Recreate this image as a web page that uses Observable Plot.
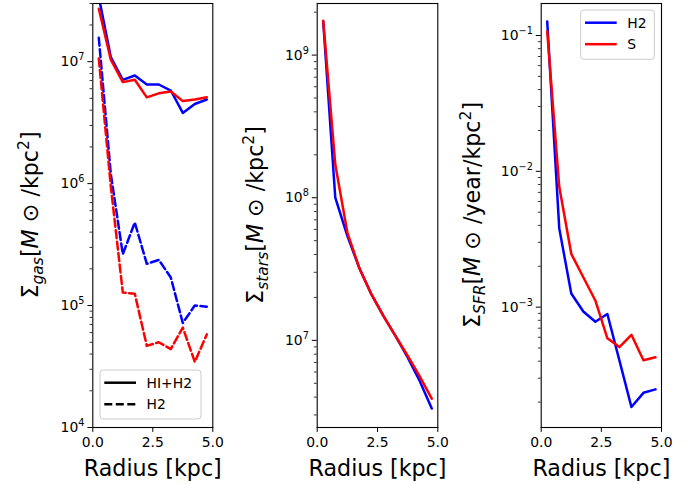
<!DOCTYPE html>
<html><head><meta charset="utf-8">
<script src="https://cdn.jsdelivr.net/npm/d3@7"></script>
<script src="https://cdn.jsdelivr.net/npm/@observablehq/plot@0.6"></script>
<style>
body{margin:0;background:#fff;}
#fig{position:relative;width:698px;height:484px;font-family:"DejaVu Sans";}
#fig svg{position:absolute;left:0;top:0;}
</style></head><body><div id="fig"></div>
<script>
// ---- data ----
const radius = [0.25, 0.75, 1.25, 1.75, 2.25, 2.75, 3.25, 3.75, 4.25, 4.75];
const gasTotalH2 = [3.4e7, 1.09e7, 7.1e6, 7.7e6, 6.5e6, 6.5e6, 5.8e6, 3.8e6, 4.5e6, 4.9e6];
const gasTotalS  = [2.72e7, 1.04e7, 6.8e6, 7.1e6, 5.1e6, 5.5e6, 5.7e6, 4.75e6, 4.9e6, 5.1e6];
const gasMolH2   = [1.57e7, 1.2e6, 2.64e5, 4.8e5, 2.2e5, 2.37e5, 1.7e5, 7.2e4, 1.0e5, 9.8e4];
const gasMolS    = [1.06e7, 9.5e5, 1.28e5, 1.25e5, 4.67e4, 5.0e4, 4.4e4, 6.6e4, 3.45e4, 5.8e4];
const starsH2    = [1.72e9, 1.0e8, 5.4e7, 3.2e7, 2.1e7, 1.48e7, 1.07e7, 7.6e6, 5.2e6, 3.33e6];
const starsS     = [1.74e9, 1.71e8, 5.7e7, 3.2e7, 2.1e7, 1.48e7, 1.07e7, 7.8e6, 5.6e6, 3.9e6];
const sfrH2      = [0.127, 3.8e-3, 1.26e-3, 9.3e-4, 7.8e-4, 8.9e-4, 4.06e-4, 1.84e-4, 2.34e-4, 2.48e-4];
const sfrS       = [0.107, 7.7e-3, 2.47e-3, 1.66e-3, 1.12e-3, 5.9e-4, 5.08e-4, 6.26e-4, 4.06e-4, 4.28e-4];
const xTicks = [0, 2.5, 5];
const gasTicks = [1e4, 1e5, 1e6, 1e7];
const starsTicks = [1e7, 1e8, 1e9];
const sfrTicks = [1e-3, 1e-2, 1e-1];
const modelNames = ["H2", "S"];
const gasLegend = ["HI+H2", "H2"];
const xLabel = "Radius [kpc]";

function minorTicks(lo, hi) {
  const out = [];
  for (let e = Math.floor(Math.log10(lo)); e <= Math.ceil(Math.log10(hi)); e++)
    for (let m = 2; m <= 9; m++) { const v = m * Math.pow(10, e); if (v >= lo && v <= hi) out.push(v); }
  return out;
}
const rows = (ys) => radius.map((r, i) => ({r, v: ys[i]}));

const W = 698, H = 484, TOP = 3, BOTTOM = 427;
const FS = 13.9, LFS = 22.2, LW = 2.5, DASH = "8,3.5";

function panel({left, right, ydomain, yticks, series}) {
  const marks = [
    Plot.axisX({ticks: xTicks, tickFormat: d3.format(".1f"), tickSize: 4.9, tickPadding: 5, label: null, fontSize: FS}),
    Plot.axisY({ticks: yticks, tickSize: 4.9, tickPadding: 3.5, label: null, fontSize: FS,
      tickFormat: d => "10^" + Math.round(Math.log10(d))}),
    Plot.axisY({ticks: minorTicks(ydomain[0], ydomain[1]), tickSize: 2.8, strokeWidth: 0.8, label: null, tickFormat: () => ""}),
    ...series.map(s => Plot.line(rows(s.data), {x: "r", y: "v", stroke: s.color, strokeWidth: LW,
      strokeDasharray: s.dash ? DASH : null, clip: true})),
    Plot.frame({stroke: "black", strokeWidth: 1.1}),
    Plot.text([xLabel], {frameAnchor: "bottom", lineAnchor: "bottom", dy: 48, fontSize: LFS, fill: "black"})
  ];
  const svg = Plot.plot({
    width: W, height: H,
    marginLeft: left, marginRight: W - right, marginTop: TOP, marginBottom: H - BOTTOM,
    style: {background: "transparent", fontFamily: "DejaVu Sans", fontSize: FS + "px", color: "black", overflow: "visible"},
    x: {domain: [0, 5]},
    y: {type: "log", domain: ydomain},
    marks
  });
  // superscript exponents
  d3.select(svg).selectAll("text").each(function() {
    const m = (this.textContent || "").match(/^10\^(-?\d+)$/);
    if (m) {
      this.textContent = "10";
      d3.select(this).append("tspan").attr("dy", "-6px").attr("font-size", "9.7px").text(m[1].replace("-", "\u2212"));
    }
  });
  return svg;
}

function yLabel(svg, x, y, parts) {
  const t = d3.select(svg).append("text")
    .attr("transform", `translate(${x},${y}) rotate(-90)`)
    .attr("text-anchor", "middle").attr("font-family", "DejaVu Sans")
    .attr("font-size", LFS).attr("fill", "black");
  let shift = 0;
  for (const p of parts) {
    const target = p.sub ? 5 : p.sup ? -9 : 0;
    const sp = t.append("tspan").attr("dy", target - shift).text(p.t);
    shift = target;
    if (p.sub || p.sup) sp.attr("font-size", 15.5);
    if (p.it) sp.attr("font-style", "italic");
  }
}

function legend(svg, x, y, w, h, items) {
  const g = d3.select(svg).append("g");
  g.append("rect").attr("x", x).attr("y", y).attr("width", w).attr("height", h).attr("rx", 3)
    .attr("fill", "white").attr("fill-opacity", 0.8).attr("stroke", "#cccccc").attr("stroke-width", 1);
  items.forEach((it, i) => {
    const yy = y + 12.7 + i * 21.5;
    g.append("line").attr("x1", x + 4.3).attr("x2", x + 36).attr("y1", yy).attr("y2", yy)
      .attr("stroke", it.color).attr("stroke-width", LW).attr("stroke-dasharray", it.dash ? DASH : null);
    g.append("text").attr("x", x + 46.5).attr("y", yy).attr("dy", "0.36em").attr("text-anchor", "start")
      .attr("font-family", "DejaVu Sans").attr("font-size", FS).attr("fill", "black").text(it.label);
  });
}

const fig = document.getElementById("fig");

const p1 = panel({left: 92.3, right: 212.3, ydomain: [1e4, 3.0e7], yticks: gasTicks, series: [
  {data: gasTotalH2, color: "blue"}, {data: gasTotalS, color: "red"},
  {data: gasMolH2, color: "blue", dash: true}, {data: gasMolS, color: "red", dash: true}]});
yLabel(p1, 38, 215, [{t: "\u03A3"}, {t: "gas", it: true, sub: true}, {t: "["}, {t: "M", it: true}, {t: " \u2299 "}, {t: "/kpc"}, {t: "2", sup: true}, {t: "]"}]);
legend(p1, 100, 370, 101, 49, [{label: gasLegend[0], color: "black"}, {label: gasLegend[1], color: "black", dash: true}]);
fig.appendChild(p1);

const p2 = panel({left: 316.7, right: 437.3, ydomain: [2.45e6, 2.3e9], yticks: starsTicks, series: [
  {data: starsH2, color: "blue"}, {data: starsS, color: "red"}]});
yLabel(p2, 263, 215, [{t: "\u03A3"}, {t: "stars", it: true, sub: true}, {t: "["}, {t: "M", it: true}, {t: " \u2299 "}, {t: "/kpc"}, {t: "2", sup: true}, {t: "]"}]);
fig.appendChild(p2);

const p3 = panel({left: 540.7, right: 661, ydomain: [1.3e-4, 0.172], yticks: sfrTicks, series: [
  {data: sfrH2, color: "blue"}, {data: sfrS, color: "red"}]});
yLabel(p3, 480, 215, [{t: "\u03A3"}, {t: "SFR", it: true, sub: true}, {t: "["}, {t: "M", it: true}, {t: " \u2299 "}, {t: "/year/kpc"}, {t: "2", sup: true}, {t: "]"}]);
legend(p3, 580.7, 10, 73.6, 49.3, [{label: modelNames[0], color: "blue"}, {label: modelNames[1], color: "red"}]);
fig.appendChild(p3);
</script>
</body></html>
